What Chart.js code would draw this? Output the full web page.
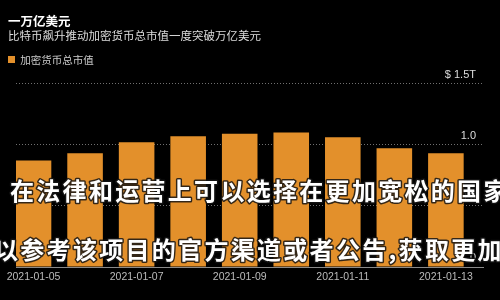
<!DOCTYPE html>
<html><head><meta charset="utf-8">
<script src="https://cdn.jsdelivr.net/npm/chart.js@4/dist/chart.umd.min.js"></script>
<style>html,body{margin:0;padding:0;background:#000;}#wrap{width:500px;height:300px;}</style>
</head><body><div id="wrap"><canvas id="c" width="500" height="300"></canvas></div>
<script>
const categories = ['2021-01-05','2021-01-06','2021-01-07','2021-01-08','2021-01-09','2021-01-10','2021-01-11','2021-01-12','2021-01-13'];
const marketCap = [0.87, 0.93, 1.02, 1.07, 1.09, 1.10, 1.06, 0.97, 0.93];
const yTickValues = [0, 0.5, 1.0, 1.5];
const yTickLabels = ['0', '0.5', '1.0', '$ 1.5T'];
const titleText = '一万亿美元';
const subtitleText = '比特币飙升推动加密货币总市值一度突破万亿美元';
const seriesName = '加密货币总市值';
const overlayLines = ['在法律和运营上可以选择在更加宽松的国家', '以参考该项目的官方渠道或者公告,获取更加'];

const CJK = '"Noto Sans CJK SC", "Noto Sans", sans-serif';
const LAT = '"Liberation Sans", Arial, sans-serif';

const overlayPlugin = {
  id: 'overlay',
  afterDraw(chart) {
    const ctx = chart.ctx;
    ctx.save();
    ctx.font = 'bold 24px ' + CJK;
    try { ctx.letterSpacing = '2.3px'; } catch (e) {}
    ctx.textBaseline = 'middle';
    ctx.textAlign = 'left';
    const rows = [[10, 191], [-6, 250]];
    overlayLines.forEach((t, i) => {
      ctx.lineJoin = 'round';
      ctx.lineWidth = 3;
      ctx.strokeStyle = 'rgba(20,20,20,0.85)';
      ctx.strokeText(t, rows[i][0], rows[i][1]);
      ctx.fillStyle = '#ffffff';
      ctx.fillText(t, rows[i][0], rows[i][1]);
    });
    ctx.restore();
  }
};

new Chart(document.getElementById('c'), {
  type: 'bar',
  data: {
    datasets: [{
      label: seriesName,
      data: marketCap.map((v, i) => ({x: i, y: v})),
      backgroundColor: '#E3902B',
      borderWidth: 0,
      barPercentage: 0.69,
      categoryPercentage: 1,
      xAxisID: 'x',
      yAxisID: 'y'
    }]
  },
  options: {
    responsive: false,
    animation: false,
    devicePixelRatio: 1,
    layout: {padding: {left: 8, right: 10, top: 0, bottom: 12.4}},
    plugins: {
      title: {display: true, text: titleText, align: 'start', color: '#ffffff',
        font: {family: CJK, size: 12.5, weight: 'bold', lineHeight: 1.2}, padding: {top: 14, bottom: 0}},
      subtitle: {display: true, text: subtitleText, align: 'start', color: '#dddddd',
        font: {family: CJK, size: 11.5, lineHeight: 1.2}, padding: {top: 0, bottom: 11.5}},
      legend: {display: true, align: 'start',
        labels: {boxWidth: 7, boxHeight: 7, padding: 0, color: '#cccccc',
          font: {family: CJK, size: 10.5}}},
      tooltip: {enabled: false}
    },
    scales: {
      x: {
        type: 'linear', position: 'bottom', min: -0.34, max: 8.72, offset: false,
        grid: {display: false, drawTicks: false, offset: false},
        border: {display: true, color: '#8a8a8a', width: 1},
        ticks: {stepSize: 2, includeBounds: false, autoSkip: false, maxRotation: 0, padding: 4,
          color: '#bbbbbb', font: {family: LAT, size: 10.5},
          callback: (v) => Number.isInteger(v) ? categories[v] : ''}
      },
      y: {
        type: 'linear', position: 'right', min: 0, max: 1.5,
        grid: {color: '#707070', lineWidth: 1, drawTicks: false},
        border: {display: false, dash: [1, 2]},
        afterBuildTicks: (s) => { s.ticks = yTickValues.map(v => ({value: v})); },
        afterFit: (s) => { s.width = 7; },
        ticks: {mirror: true, padding: -7, labelOffset: -9, color: '#dddddd',
          font: {family: LAT, size: 11},
          callback: (v) => yTickLabels[yTickValues.indexOf(v)]}
      },
      padLeft: {
        type: 'linear', position: 'left', display: true,
        grid: {display: false, drawTicks: false}, border: {display: false},
        ticks: {display: false}, afterFit: (s) => { s.width = 8; }
      },
      padTop: {
        type: 'linear', position: 'top', display: true,
        grid: {display: false, drawTicks: false}, border: {display: false},
        ticks: {display: false}, afterFit: (s) => { s.height = 8.75; }
      }
    }
  },
  plugins: [overlayPlugin]
});
</script>
</body></html>
